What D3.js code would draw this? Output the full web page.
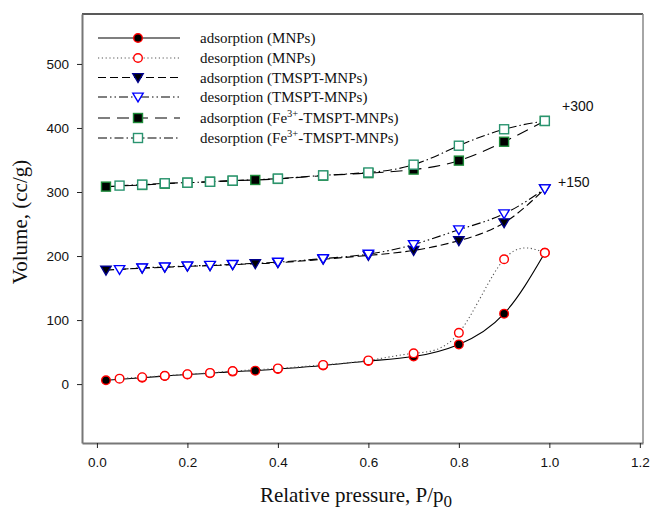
<!DOCTYPE html>
<html>
<head>
<meta charset="utf-8">
<script src="https://cdn.jsdelivr.net/npm/d3@7"></script>
<style>
  html, body { margin: 0; padding: 0; background: #fff; }
  svg { display: block; }
</style>
</head>
<body>
<svg id="chart" width="652" height="510"></svg>
<script>
// Nitrogen isotherms: relative pressure vs. adsorbed volume (cc/g).
// TMSPT-MNPs are shifted by +150 and Fe3+-TMSPT-MNPs by +300 for clarity.

const xTicks = [0.0, 0.2, 0.4, 0.6, 0.8, 1.0, 1.2];
const yTicks = [0, 100, 200, 300, 400, 500];

// Adsorption branch pressures / desorption branch pressures
const adsP = [0.02, 0.1, 0.15, 0.2, 0.25, 0.3, 0.35, 0.4, 0.5, 0.6, 0.7, 0.8, 0.9, 0.99];
const desP = [0.99, 0.9, 0.8, 0.7, 0.6, 0.5, 0.4, 0.3, 0.25, 0.2, 0.15, 0.1, 0.05];

// MNPs
const mnpAds = [6, 10, 12.5, 15, 17, 19.5, 21, 23.5, 29, 36, 43, 62, 110, 205];
const mnpDes = [205, 195, 80, 48, 37, 30, 24.5, 20.3, 17.5, 15.5, 13, 10.8, 8.5];

// TMSPT-MNPs (raw, before offset)
const tmsAds = [28, 31, 32.5, 34, 35, 36.5, 38, 39.5, 45, 51, 58.7, 74, 102, 155];
const tmsDes = [155, 116, 91, 68, 53, 46, 40.5, 37, 35.5, 34.5, 33, 31.5, 29];

// Fe3+-TMSPT-MNPs (raw, before offset)
const feAds = [8.4, 11, 13, 14.5, 16, 17.5, 18.8, 20.5, 25.5, 29.5, 35, 49, 78.5, 111];
const feDes = [111, 98, 72.3, 42.7, 30.5, 26, 20.9, 17.8, 16, 14.6, 13.6, 11.5, 10];

const offsets = [0, 150, 300];
const offsetLabels = ["+150", "+300"];

const seriesNames = [
  "adsorption (MNPs)",
  "desorption (MNPs)",
  "adsorption (TMSPT-MNPs)",
  "desorption (TMSPT-MNPs)",
  "adsorption (Fe3+-TMSPT-MNPs)",
  "desorption (Fe3+-TMSPT-MNPs)"
];

const series = [
  { p: adsP, v: mnpAds, off: offsets[0], dash: null, lineColor: "#000", shape: "circle", fill: "#000", stroke: "#ff0000" },
  { p: desP, v: mnpDes, off: offsets[0], dash: "1.2,2.6", lineColor: "#555", shape: "circle", fill: "#fff", stroke: "#ff0000" },
  { p: adsP, v: tmsAds, off: offsets[1], dash: "8,4", lineColor: "#000", shape: "tri", fill: "#000", stroke: "#00008b" },
  { p: desP, v: tmsDes, off: offsets[1], dash: "9,3,1.5,3,1.5,3", lineColor: "#000", shape: "tri", fill: "#fff", stroke: "#0000ff" },
  { p: adsP, v: feAds, off: offsets[2], dash: "12,7", lineColor: "#000", shape: "square", fill: "#000", stroke: "#1e8c3a" },
  { p: desP, v: feDes, off: offsets[2], dash: "9,3,1.5,3", lineColor: "#000", shape: "square", fill: "#fff", stroke: "#2a9470" }
];

const svg = d3.select("#chart");
const L = 82, R = 643, T = 14, B = 443;

const x = d3.scaleLinear().domain([-0.033, 1.207]).range([L, R]);
const y = d3.scaleLinear().domain([-92, 578]).range([B, T]);

const sans = "Liberation Sans, Arial, sans-serif";
const serif = "Liberation Serif, Times New Roman, serif";

// Frame
svg.append("line").attr("x1", L).attr("x2", R).attr("y1", T).attr("y2", T)
  .attr("stroke", "#222").attr("stroke-width", 1.5);
svg.append("line").attr("x1", R).attr("x2", R).attr("y1", T).attr("y2", B)
  .attr("stroke", "#888").attr("stroke-width", 1.5);

// Axes
const xAxis = d3.axisBottom(x).tickValues(xTicks).tickFormat(d3.format(".1f"))
  .tickSizeInner(5).tickSizeOuter(0).tickPadding(9);
const gx = svg.append("g").attr("transform", `translate(0,${B})`).call(xAxis);
gx.select(".domain").attr("stroke", "#777").attr("stroke-width", 2);
gx.selectAll(".tick line").attr("stroke", "#222");
gx.selectAll("text").attr("font-family", sans).attr("font-size", 13.5).attr("fill", "#111");

const yAxis = d3.axisLeft(y).tickValues(yTicks).tickSizeInner(5).tickSizeOuter(0).tickPadding(8);
const gy = svg.append("g").attr("transform", `translate(${L},0)`).call(yAxis);
gy.select(".domain").attr("stroke", "#777").attr("stroke-width", 2);
gy.selectAll(".tick line").attr("stroke", "#222");
gy.selectAll("text").attr("font-family", sans).attr("font-size", 13.5).attr("fill", "#111");

// Axis titles
svg.append("text")
  .attr("transform", `translate(27,${222}) rotate(-90)`)
  .attr("text-anchor", "middle")
  .attr("font-family", serif)
  .attr("font-size", 21).attr("fill", "#111")
  .text("Volume, (cc/g)");

const xt = svg.append("text")
  .attr("x", 356).attr("y", 502)
  .attr("text-anchor", "middle")
  .attr("font-family", serif)
  .attr("font-size", 21).attr("fill", "#111");
xt.append("tspan").text("Relative pressure, P/p");
xt.append("tspan").attr("font-size", 17).attr("dy", 5).text("0");

// Marker drawing helper
function drawMarker(g, shape, cx, cy, fill, stroke) {
  if (shape === "circle") {
    g.append("circle").attr("cx", cx).attr("cy", cy).attr("r", 4.3)
      .attr("fill", fill).attr("stroke", stroke).attr("stroke-width", 1.4);
  } else if (shape === "tri") {
    const s = 5.2;
    g.append("path")
      .attr("d", `M${cx - s},${cy - s * 0.75}L${cx + s},${cy - s * 0.75}L${cx},${cy + s * 0.95}Z`)
      .attr("fill", fill).attr("stroke", stroke).attr("stroke-width", 1.4);
  } else {
    const s = 4.5;
    g.append("rect").attr("x", cx - s).attr("y", cy - s).attr("width", 2 * s).attr("height", 2 * s)
      .attr("fill", fill).attr("stroke", stroke).attr("stroke-width", 1.4);
  }
}

// Curves
const line = d3.line().curve(d3.curveNatural)
  .x(d => x(d[0])).y(d => y(d[1]));

series.forEach(s => {
  const pts = s.p.map((p, i) => [p, s.v[i] + s.off]).sort((a, b) => a[0] - b[0]);
  svg.append("path").datum(pts)
    .attr("d", line)
    .attr("fill", "none")
    .attr("stroke", s.lineColor)
    .attr("stroke-width", 1.1)
    .attr("stroke-dasharray", s.dash);
});

// Markers
series.forEach(s => {
  const g = svg.append("g");
  s.p.forEach((p, i) => drawMarker(g, s.shape, x(p), y(s.v[i] + s.off), s.fill, s.stroke));
});

// Offset annotations
svg.append("text").attr("x", 558).attr("y", y(150 + 155) - 2)
  .attr("font-family", sans).attr("font-size", 14).attr("fill", "#111")
  .text(offsetLabels[0]);
svg.append("text").attr("x", 562).attr("y", y(300 + 111) - 10)
  .attr("font-family", sans).attr("font-size", 14).attr("fill", "#111")
  .text(offsetLabels[1]);

// Legend
const legend = svg.append("g");
const rowY = [38, 58, 77.5, 97, 118, 138];
series.forEach((s, i) => {
  const yy = rowY[i];
  legend.append("line").attr("x1", 98).attr("x2", 180).attr("y1", yy).attr("y2", yy)
    .attr("stroke", s.lineColor).attr("stroke-width", 1.1).attr("stroke-dasharray", s.dash);
  drawMarker(legend, s.shape, 138, yy, s.fill, s.stroke);
  const t = legend.append("text").attr("x", 200).attr("y", yy + 5)
    .attr("font-family", serif)
    .attr("font-size", 15).attr("fill", "#111");
  const name = seriesNames[i];
  if (name.includes("Fe3+")) {
    const [a, b] = name.split("Fe3+");
    t.append("tspan").text(a + "Fe");
    t.append("tspan").attr("dy", -6).attr("font-size", 10.5).text("3+");
    t.append("tspan").attr("dy", 6).text(b);
  } else {
    t.text(name);
  }
});
</script>
</body>
</html>
